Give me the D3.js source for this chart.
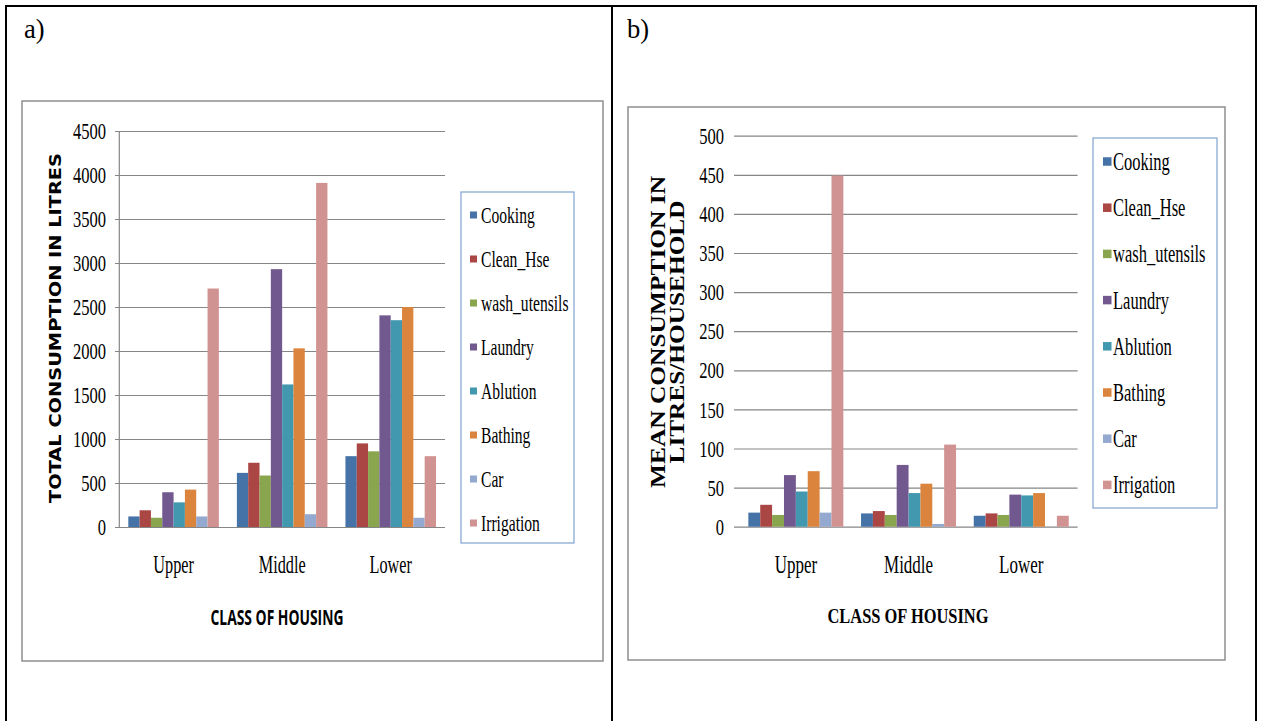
<!DOCTYPE html>
<html>
<head>
<meta charset="utf-8">
<script src="https://cdn.jsdelivr.net/npm/d3@7"></script>
<style>
  body { margin: 0; background: #fff; }
  svg { display: block; }
</style>
</head>
<body>
<svg id="chart" width="1261" height="721"></svg>
<script>
// Data
var categories = ["Upper", "Middle", "Lower"];
var uses = ["Cooking", "Clean_Hse", "wash_utensils", "Laundry", "Ablution", "Bathing", "Car", "Irrigation"];
var colors = ["#4572A7", "#AA4643", "#89A54E", "#71588F", "#4198AF", "#DB843D", "#93A9CF", "#D19392"];

// a) total consumption in litres
var totalUpper  = [120, 190, 105, 395, 280, 425, 120, 2710];
var totalMiddle = [615, 730, 585, 2930, 1620, 2030, 145, 3910];
var totalLower  = [805, 950, 860, 2405, 2350, 2500, 105, 805];

// b) mean consumption in litres/household
var meanUpper  = [18, 28, 15, 66, 45, 71, 18, 449];
var meanMiddle = [17, 20, 15, 79, 43, 55, 3.5, 105];
var meanLower  = [14, 17, 15, 41, 40, 43, 0, 14];

var serif = "'Liberation Serif', 'Times New Roman', serif";
var svg = d3.select("#chart");

// Write a horizontally squashed text (the source image is condensed)
function label(parent, x, y, str, size, sx, anchor, family, weight) {
    return parent.append("text")
        .attr("transform", "translate(" + x + "," + y + ") scale(" + sx + ",1)")
        .attr("text-anchor", anchor || "start")
        .style("font-family", family || serif)
        .style("font-weight", weight || "normal")
        .style("font-size", size + "px")
        .text(str);
}

// Outer table lines
svg.append("rect").attr("x", 6).attr("y", 6).attr("width", 1250).attr("height", 730)
    .attr("fill", "none").attr("stroke", "#000").attr("stroke-width", 2);
svg.append("line").attr("x1", 612).attr("x2", 612).attr("y1", 6).attr("y2", 721)
    .attr("stroke", "#000").attr("stroke-width", 2);

label(svg, 24, 38, "a)", 28, 0.95);
label(svg, 627, 38, "b)", 28, 0.95);

/**
 * Draw one clustered bar chart panel
 */
function drawPanel(cfg) {
    var g = svg.append("g");

    // chart frame
    g.append("rect").attr("x", cfg.box[0]).attr("y", cfg.box[1])
        .attr("width", cfg.box[2]).attr("height", cfg.box[3])
        .attr("fill", "#fff").attr("stroke", "#8e8e8e").attr("stroke-width", 1.5);

    var y = d3.scaleLinear().domain([0, cfg.max]).range([cfg.bottom, cfg.top]);
    var x0 = d3.scaleBand().domain(categories).range([cfg.left, cfg.right])
        .paddingInner(cfg.pad).paddingOuter(cfg.pad / 2);
    var x1 = d3.scaleBand().domain(uses).range([0, x0.bandwidth()]);

    // gridlines + tick labels
    var axis = g.append("g")
        .attr("transform", "translate(" + cfg.gridStart + ",0)")
        .call(d3.axisLeft(y).tickValues(y.ticks(10)).tickFormat(d3.format("d"))
            .tickSizeInner(-(cfg.right - cfg.gridStart)).tickSizeOuter(0)
            .tickPadding(cfg.gridStart - cfg.labelRight));
    axis.select(".domain").remove();
    axis.selectAll(".tick line").attr("stroke", "#868686").attr("stroke-width", 1.2);
    axis.selectAll(".tick text")
        .attr("x", -(cfg.gridStart - cfg.labelRight) / cfg.sx)
        .attr("transform", "scale(" + cfg.sx + ",1)")
        .attr("fill", "#000")
        .style("font-family", serif).style("font-size", cfg.tickSize + "px");

    if (cfg.axisLine) {
        g.append("line").attr("x1", cfg.left).attr("x2", cfg.left)
            .attr("y1", cfg.top).attr("y2", cfg.bottom)
            .attr("stroke", "#868686").attr("stroke-width", 1.2);
    }

    // bars
    var groups = g.selectAll("g.cat").data(categories).enter().append("g")
        .attr("class", "cat")
        .attr("transform", function (d) { return "translate(" + x0(d) + ",0)"; });
    groups.selectAll("rect").data(function (d, i) {
            return cfg.values[i].map(function (v, j) { return { use: uses[j], value: v, color: colors[j] }; });
        })
        .enter().append("rect")
        .attr("x", function (d) { return x1(d.use); })
        .attr("y", function (d) { return y(d.value); })
        .attr("width", x1.bandwidth())
        .attr("height", function (d) { return y(0) - y(d.value); })
        .attr("fill", function (d) { return d.color; });

    // category labels
    categories.forEach(function (c) {
        label(g, x0(c) + x0.bandwidth() / 2, cfg.catY, c, cfg.catSize, cfg.catSx, "middle");
    });

    // x title
    g.append("text").attr("x", cfg.xTitle[0]).attr("y", cfg.xTitle[1])
        .attr("text-anchor", "middle")
        .attr("textLength", cfg.xTitle[2]).attr("lengthAdjust", "spacingAndGlyphs")
        .style("font-family", cfg.xTitleFont).style("font-weight", "bold")
        .style("font-size", cfg.xTitleSize + "px")
        .text("CLASS OF HOUSING");

    // y title (one or two lines)
    cfg.yTitle.forEach(function (t) {
        g.append("text")
            .attr("transform", "translate(" + t.x + "," + cfg.yTitleY + ") rotate(-90)")
            .attr("text-anchor", "middle")
            .attr("textLength", t.len).attr("lengthAdjust", "spacingAndGlyphs")
            .style("font-family", cfg.yTitleFont).style("font-weight", "bold")
            .style("font-size", cfg.yTitleSize + "px")
            .text(t.text);
    });

    // legend
    var lg = cfg.legend;
    g.append("rect").attr("x", lg.x).attr("y", lg.y).attr("width", lg.w).attr("height", lg.h)
        .attr("fill", "#fff").attr("stroke", "#7fa2cf").attr("stroke-width", 1.2);
    uses.forEach(function (u, i) {
        var cy = lg.first + i * lg.step;
        g.append("rect").attr("x", lg.x + lg.sq0).attr("y", cy - lg.sq / 2)
            .attr("width", lg.sq).attr("height", lg.sq).attr("fill", colors[i]);
        label(g, lg.x + lg.text0, cy + lg.base, u, lg.size, lg.sx);
    });
}

drawPanel({
    box: [22, 101, 581, 560],
    max: 4500, top: 131, bottom: 527, left: 119.3, right: 445,
    gridStart: 115, labelRight: 106, axisLine: true,
    pad: 0.166, sx: 0.69, tickSize: 24,
    values: [totalUpper, totalMiddle, totalLower],
    catY: 573, catSize: 25, catSx: 0.65,
    xTitle: [277, 625, 133], xTitleFont: "'Open Sans', sans-serif", xTitleSize: 21,
    yTitle: [{ x: 61, text: "TOTAL CONSUMPTION IN LITRES", len: 350 }],
    yTitleY: 328, yTitleFont: "'DejaVu Sans', sans-serif", yTitleSize: 15,
    legend: { x: 461, y: 192, w: 113, h: 351, first: 215, step: 44, sq0: 9, sq: 7, text0: 20, size: 24, sx: 0.65, base: 7.5 }
});

drawPanel({
    box: [628, 107, 597, 553],
    max: 500, top: 135.7, bottom: 526.7, left: 739.5, right: 1077.6,
    gridStart: 734, labelRight: 724, axisLine: false,
    pad: 0.157, sx: 0.69, tickSize: 24,
    values: [meanUpper, meanMiddle, meanLower],
    catY: 573, catSize: 25, catSx: 0.68,
    xTitle: [908, 623, 161], xTitleFont: serif, xTitleSize: 21,
    yTitle: [{ x: 665, text: "MEAN CONSUMPTION IN", len: 312 },
             { x: 684, text: "LITRES/HOUSEHOLD", len: 263 }],
    yTitleY: 332, yTitleFont: serif, yTitleSize: 20,
    legend: { x: 1093, y: 138, w: 124, h: 370, first: 161.5, step: 46.2, sq0: 10, sq: 8.5, text0: 20, size: 25, sx: 0.66, base: 8.5 }
});
</script>
</body>
</html>
